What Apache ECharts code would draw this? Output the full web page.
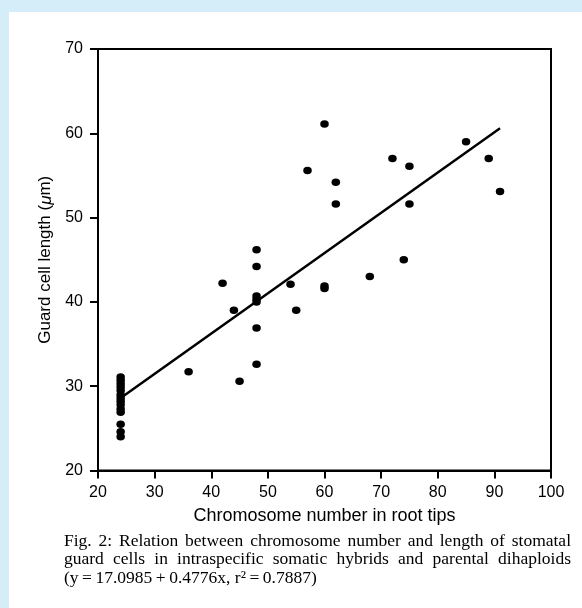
<!DOCTYPE html>
<html>
<head>
<meta charset="utf-8">
<script src="https://cdn.jsdelivr.net/npm/echarts@6/dist/echarts.min.js"></script>
<style>
  html, body { margin: 0; padding: 0; background: #d4edf9; }
  #chart { width: 582px; height: 608px; }
</style>
</head>
<body>
<div id="chart"></div>
<script>
// Datos
const chromosomeNumbers = [
    24, 24, 24, 24, 24, 24, 24, 24, 24, 24, 24, 24, 24, 24,
    36, 42, 44, 45, 48, 48, 48, 48, 48, 48, 48,
    54, 55, 57, 60, 60, 60, 62, 62, 68, 72, 74, 75, 75, 85, 89, 91
];
const guardCellLengths = [
    31.1, 30.7, 30.3, 29.9, 29.5, 29.0, 28.6, 28.2, 27.8, 27.3, 26.9, 25.5, 24.6, 24.0,
    31.7, 42.2, 39.0, 30.6, 46.2, 44.2, 40.7, 40.3, 40.0, 36.9, 32.6,
    42.1, 39.0, 55.6, 61.1, 41.9, 41.6, 54.2, 51.6, 43.0, 57.0, 45.0, 56.1, 51.6, 59.0, 57.0, 53.1
];
// Recta de regresión (extremos)
const fitLineX = [24, 91];
const fitLineY = [28.6, 60.6];

const xTicks = { min: 20, max: 100, interval: 10 };
const yTicks = { min: 20, max: 70, interval: 10 };

const captionLines = [
    'Fig. 2: Relation between chromosome number and length of stomatal',
    'guard cells in intraspecific somatic hybrids and parental dihaploids',
    '(y\u2009=\u200917.0985\u2009+\u20090.4776x, r\u00b2\u2009=\u20090.7887)'
];

const sansFont = '"Liberation Sans", Arial, Helvetica, sans-serif';
const serifFont = '"Liberation Serif", "Times New Roman", serif';
const ink = '#000';

// Pie de figura justificado (palabra por palabra)
function buildCaption() {
    const ctx = document.createElement('canvas').getContext('2d');
    const fontSize = 17.5;
    const font = fontSize + 'px ' + serifFont;
    ctx.font = font;
    const left = 64, right = 571, top = 541, lineGap = 18.5;
    const elements = [];
    captionLines.forEach(function(line, i) {
        const y = top + i * lineGap;
        const justify = i < captionLines.length - 1;
        if (!justify) {
            elements.push({
                type: 'text', x: left, y: y,
                style: { text: line, font: font, fill: ink, textVerticalAlign: 'middle', verticalAlign: 'middle' }
            });
            return;
        }
        const words = line.split(' ');
        const widths = words.map(w => ctx.measureText(w).width);
        const total = widths.reduce((a, b) => a + b, 0);
        const gap = (right - left - total) / (words.length - 1);
        let x = left;
        words.forEach(function(w, k) {
            elements.push({
                type: 'text', x: x, y: y,
                style: { text: w, font: font, fill: ink, textVerticalAlign: 'middle', verticalAlign: 'middle' }
            });
            x += widths[k] + gap;
        });
    });
    return elements;
}

const chart = echarts.init(document.getElementById('chart'));

chart.setOption({
    backgroundColor: '#d4edf9',
    animation: false,
    graphic: [
        {
            type: 'rect', z: -10, silent: true,
            shape: { x: 9, y: 12, width: 573, height: 596 },
            style: { fill: '#ffffff' }
        }
    ].concat(buildCaption()),
    grid: {
        left: 98, right: 31, top: 49, bottom: 137.5,
        containLabel: false,
        outerBoundsMode: 'none',
        show: true,
        borderColor: ink,
        borderWidth: 2,
        backgroundColor: 'transparent'
    },
    xAxis: {
        type: 'value',
        min: xTicks.min, max: xTicks.max, interval: xTicks.interval,
        name: 'Chromosome number in root tips',
        nameLocation: 'middle',
        nameGap: 37,
        nameTextStyle: { fontFamily: sansFont, fontSize: 18, color: ink },
        axisLine: { lineStyle: { color: ink, width: 2 } },
        axisTick: { show: true, inside: false, length: 8, lineStyle: { color: ink, width: 2 } },
        axisLabel: { fontFamily: sansFont, fontSize: 16, color: ink, margin: 14 },
        splitLine: { show: false }
    },
    yAxis: {
        type: 'value',
        min: yTicks.min, max: yTicks.max, interval: yTicks.interval,
        name: '{n|Guard cell length (}{i|\u03bc}{n|m)}',
        nameLocation: 'middle',
        nameGap: 38,
        nameTextStyle: {
            fontFamily: sansFont, fontSize: 17, color: ink,
            rich: {
                n: { fontFamily: sansFont, fontSize: 17, color: ink },
                i: { fontFamily: sansFont, fontSize: 17, color: ink, fontStyle: 'italic' }
            }
        },
        axisLine: { lineStyle: { color: ink, width: 2 } },
        axisTick: { show: true, inside: false, length: 8, lineStyle: { color: ink, width: 2 } },
        axisLabel: { fontFamily: sansFont, fontSize: 16, color: ink, margin: 15 },
        splitLine: { show: false }
    },
    series: [
        {
            name: 'Guard cells',
            type: 'scatter',
            symbol: 'circle',
            symbolSize: [8.5, 7.5],
            itemStyle: { color: ink, opacity: 1 },
            data: chromosomeNumbers.map((x, i) => [x, guardCellLengths[i]])
        },
        {
            name: 'Regression',
            type: 'line',
            symbol: 'none',
            lineStyle: { color: ink, width: 2.5 },
            data: fitLineX.map((x, i) => [x, fitLineY[i]])
        }
    ]
});
</script>
</body>
</html>
